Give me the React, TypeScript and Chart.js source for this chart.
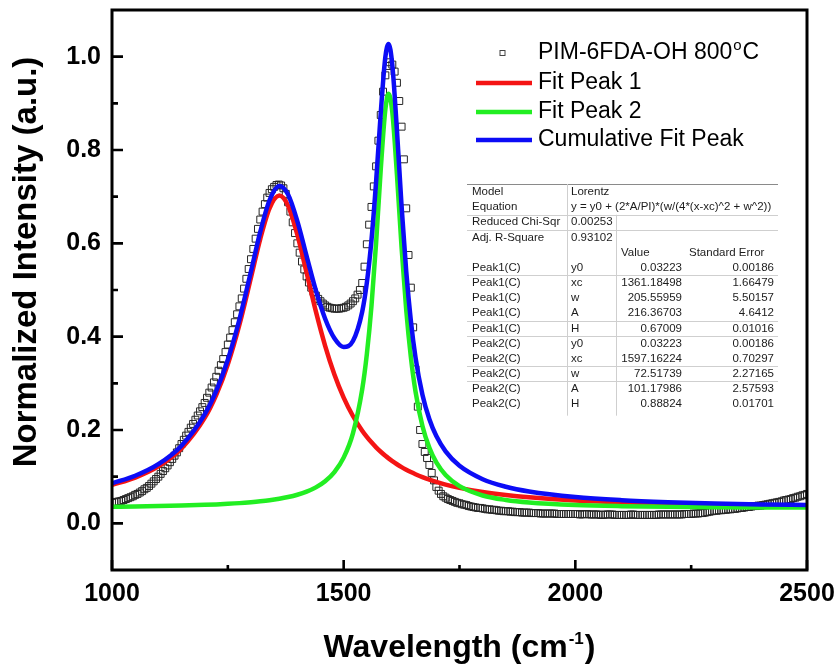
import React, { useEffect, useRef } from 'react';
import { Chart, registerables } from 'chart.js';

Chart.register(...registerables);

// Measured Raman spectrum (normalized), one row per 100 cm-1 span
const SPECTRUM_WAVENUMBER = [
  1000, 1005, 1010, 1015, 1020, 1025, 1030, 1035, 1040, 1045, 1050, 1055, 1060, 1065, 1070, 1075, 1080, 1085, 1090, 1095,
  1100, 1105, 1110, 1115, 1120, 1125, 1130, 1135, 1140, 1145, 1150, 1155, 1160, 1165, 1170, 1175, 1180, 1185, 1190, 1195,
  1200, 1205, 1210, 1215, 1220, 1225, 1230, 1235, 1240, 1245, 1250, 1255, 1260, 1265, 1270, 1275, 1280, 1285, 1290, 1295,
  1300, 1305, 1310, 1315, 1320, 1325, 1330, 1335, 1340, 1345, 1350, 1355, 1360, 1365, 1370, 1375, 1380, 1385, 1390, 1395,
  1400, 1405, 1410, 1415, 1420, 1425, 1430, 1435, 1440, 1445, 1450, 1455, 1460, 1465, 1470, 1475, 1480, 1485, 1490, 1495,
  1500, 1505, 1510, 1515, 1520, 1525, 1530, 1535, 1540, 1545, 1550, 1555, 1560, 1565, 1570, 1575, 1580, 1585, 1590, 1595,
  1600, 1605, 1610, 1615, 1620, 1625, 1630, 1635, 1640, 1645, 1650, 1655, 1660, 1665, 1670, 1675, 1680, 1685, 1690, 1695,
  1700, 1705, 1710, 1715, 1720, 1725, 1730, 1735, 1740, 1745, 1750, 1755, 1760, 1765, 1770, 1775, 1780, 1785, 1790, 1795,
  1800, 1805, 1810, 1815, 1820, 1825, 1830, 1835, 1840, 1845, 1850, 1855, 1860, 1865, 1870, 1875, 1880, 1885, 1890, 1895,
  1900, 1905, 1910, 1915, 1920, 1925, 1930, 1935, 1940, 1945, 1950, 1955, 1960, 1965, 1970, 1975, 1980, 1985, 1990, 1995,
  2000, 2005, 2010, 2015, 2020, 2025, 2030, 2035, 2040, 2045, 2050, 2055, 2060, 2065, 2070, 2075, 2080, 2085, 2090, 2095,
  2100, 2105, 2110, 2115, 2120, 2125, 2130, 2135, 2140, 2145, 2150, 2155, 2160, 2165, 2170, 2175, 2180, 2185, 2190, 2195,
  2200, 2205, 2210, 2215, 2220, 2225, 2230, 2235, 2240, 2245, 2250, 2255, 2260, 2265, 2270, 2275, 2280, 2285, 2290, 2295,
  2300, 2305, 2310, 2315, 2320, 2325, 2330, 2335, 2340, 2345, 2350, 2355, 2360, 2365, 2370, 2375, 2380, 2385, 2390, 2395,
  2400, 2405, 2410, 2415, 2420, 2425, 2430, 2435, 2440, 2445, 2450, 2455, 2460, 2465, 2470, 2475, 2480, 2485, 2490, 2495,
  2500,
];

const SPECTRUM_INTENSITY = [
  0.044, 0.045, 0.046, 0.047, 0.048, 0.050, 0.052, 0.054, 0.056, 0.058, 0.061, 0.063, 0.066, 0.069, 0.073, 0.076, 0.080, 0.085, 0.090, 0.095,
  0.100, 0.106, 0.112, 0.118, 0.124, 0.131, 0.138, 0.145, 0.152, 0.161, 0.170, 0.179, 0.188, 0.196, 0.205, 0.213, 0.222, 0.231, 0.240, 0.249,
  0.258, 0.269, 0.280, 0.291, 0.302, 0.314, 0.327, 0.339, 0.352, 0.367, 0.383, 0.398, 0.414, 0.431, 0.448, 0.465, 0.482, 0.503, 0.524, 0.545,
  0.566, 0.588, 0.610, 0.631, 0.651, 0.668, 0.684, 0.698, 0.708, 0.716, 0.721, 0.725, 0.726, 0.724, 0.718, 0.706, 0.688, 0.668, 0.645, 0.622,
  0.600, 0.580, 0.561, 0.544, 0.529, 0.516, 0.505, 0.496, 0.488, 0.481, 0.476, 0.471, 0.467, 0.464, 0.462, 0.461, 0.460, 0.460, 0.460, 0.461,
  0.462, 0.464, 0.467, 0.471, 0.476, 0.482, 0.490, 0.500, 0.515, 0.550, 0.598, 0.640, 0.678, 0.722, 0.765, 0.820, 0.875, 0.925, 0.960, 0.980,
  0.988, 0.983, 0.968, 0.944, 0.905, 0.850, 0.780, 0.675, 0.575, 0.505, 0.420, 0.330, 0.250, 0.200, 0.170, 0.153, 0.140, 0.125, 0.108, 0.092,
  0.078, 0.070, 0.063, 0.058, 0.055, 0.052, 0.050, 0.048, 0.046, 0.044, 0.043, 0.041, 0.040, 0.039, 0.037, 0.036, 0.035, 0.034, 0.033, 0.033,
  0.032, 0.031, 0.030, 0.030, 0.029, 0.029, 0.028, 0.027, 0.027, 0.026, 0.026, 0.026, 0.025, 0.025, 0.024, 0.024, 0.024, 0.023, 0.023, 0.023,
  0.023, 0.022, 0.022, 0.022, 0.022, 0.021, 0.021, 0.021, 0.021, 0.021, 0.021, 0.021, 0.020, 0.020, 0.020, 0.020, 0.020, 0.020, 0.020, 0.020,
  0.020, 0.020, 0.019, 0.019, 0.020, 0.020, 0.019, 0.019, 0.019, 0.019, 0.019, 0.018, 0.018, 0.019, 0.019, 0.019, 0.019, 0.018, 0.018, 0.018,
  0.018, 0.018, 0.018, 0.018, 0.019, 0.019, 0.018, 0.018, 0.018, 0.018, 0.018, 0.018, 0.018, 0.018, 0.018, 0.018, 0.019, 0.019, 0.019, 0.019,
  0.019, 0.019, 0.019, 0.019, 0.019, 0.019, 0.019, 0.020, 0.020, 0.020, 0.020, 0.021, 0.021, 0.021, 0.022, 0.022, 0.023, 0.024, 0.025, 0.026,
  0.027, 0.027, 0.028, 0.028, 0.029, 0.029, 0.030, 0.030, 0.031, 0.031, 0.032, 0.033, 0.033, 0.034, 0.035, 0.035, 0.036, 0.037, 0.037, 0.038,
  0.038, 0.039, 0.040, 0.041, 0.042, 0.043, 0.044, 0.045, 0.046, 0.047, 0.049, 0.050, 0.051, 0.052, 0.054, 0.055, 0.057, 0.058, 0.060, 0.061,
  0.063,
];

// Lorentz fit curves, tabulated on a grid that is denser around the two bands
const FIT_WAVENUMBER = [
  1000, 1050, 1100, 1150, 1200, 1225, 1250, 1275, 1300, 1320,
  1340, 1361, 1380, 1400, 1420, 1440, 1460, 1480, 1500, 1520,
  1540, 1550, 1560, 1570, 1580, 1590, 1597, 1605, 1615, 1625,
  1635, 1645, 1655, 1670, 1685, 1700, 1720, 1750, 1800, 1850,
  1900, 2000, 2100, 2200, 2300, 2400, 2500,
];

const FIT_PEAK_1 = [
  0.0824, 0.0981, 0.1221, 0.1606, 0.2259, 0.2754, 0.3410, 0.4257, 0.5270, 0.6096,
  0.6750, 0.7023, 0.6806, 0.6187, 0.5370, 0.4542, 0.3805, 0.3191, 0.2695, 0.2300,
  0.1986, 0.1854, 0.1736, 0.1629, 0.1534, 0.1447, 0.1392, 0.1333, 0.1266, 0.1205,
  0.1150, 0.1099, 0.1053, 0.0991, 0.0936, 0.0887, 0.0830, 0.0760, 0.0671, 0.0606,
  0.0558, 0.0491, 0.0450, 0.0421, 0.0402, 0.0387, 0.0376,
];

const FIT_PEAK_2 = [
  0.0355, 0.0361, 0.0369, 0.0380, 0.0396, 0.0406, 0.0418, 0.0433, 0.0453, 0.0472,
  0.0495, 0.0527, 0.0563, 0.0613, 0.0679, 0.0771, 0.0902, 0.1099, 0.1408, 0.1929,
  0.2871, 0.3622, 0.4654, 0.6012, 0.7579, 0.8871, 0.9205, 0.8808, 0.7474, 0.5911,
  0.4574, 0.3563, 0.2828, 0.2086, 0.1616, 0.1304, 0.1034, 0.0796, 0.0597, 0.0501,
  0.0448, 0.0394, 0.0368, 0.0354, 0.0346, 0.0340, 0.0337,
];

const FIT_CUMULATIVE = [
  0.0857, 0.1020, 0.1268, 0.1664, 0.2333, 0.2837, 0.3506, 0.4368, 0.5400, 0.6246,
  0.6923, 0.7228, 0.7047, 0.6477, 0.5727, 0.4991, 0.4385, 0.3967, 0.3781, 0.3907,
  0.4535, 0.5154, 0.6067, 0.7319, 0.8790, 0.9996, 1.0274, 0.9819, 0.8418, 0.6794,
  0.5402, 0.4340, 0.3559, 0.2754, 0.2229, 0.1869, 0.1542, 0.1233, 0.0946, 0.0785,
  0.0683, 0.0563, 0.0496, 0.0454, 0.0425, 0.0405, 0.0391,
];

const X_MAJOR_TICKS = [1000, 1500, 2000, 2500];
const X_MINOR_TICKS = [1250, 1750, 2250];
const Y_MAJOR_TICKS = [0, 0.2, 0.4, 0.6, 0.8, 1.0];
const Y_MINOR_TICKS = [0.1, 0.3, 0.5, 0.7, 0.9];

const SERIES_NAMES = ['PIM-6FDA-OH 800', 'Fit Peak 1', 'Fit Peak 2', 'Cumulative Fit Peak'];

// Fit report: [label, parameter, value, standard error]
const FIT_TABLE = [
  ['Model', 'Lorentz', '', ''],
  ['Equation', 'y = y0 + (2*A/PI)*(w/(4*(x-xc)^2 + w^2))', '', ''],
  ['Reduced Chi-Sqr', '0.00253', '', ''],
  ['Adj. R-Square', '0.93102', '', ''],
  ['', '', 'Value', 'Standard Error'],
  ['Peak1(C)', 'y0', '0.03223', '0.00186'],
  ['Peak1(C)', 'xc', '1361.18498', '1.66479'],
  ['Peak1(C)', 'w', '205.55959', '5.50157'],
  ['Peak1(C)', 'A', '216.36703', '4.6412'],
  ['Peak1(C)', 'H', '0.67009', '0.01016'],
  ['Peak2(C)', 'y0', '0.03223', '0.00186'],
  ['Peak2(C)', 'xc', '1597.16224', '0.70297'],
  ['Peak2(C)', 'w', '72.51739', '2.27165'],
  ['Peak2(C)', 'A', '101.17986', '2.57593'],
  ['Peak2(C)', 'H', '0.88824', '0.01701'],
];
const TABLE_RULES_AFTER = [1, 2, 5, 8, 9, 11, 12];

const FONT = '"Liberation Sans", Arial, Helvetica, sans-serif';
const RED = '#f41414';
const GREEN = '#22ee22';
const BLUE = '#0c0cf6';

const toPoints = (xs: number[], ys: number[]) => xs.map((x, i) => ({ x, y: ys[i] }));

const frameAndTicks = {
  id: 'frameAndTicks',
  afterDatasetsDraw(chart: any) {
    const { ctx, chartArea: a, scales } = chart;
    const xs = scales.x;
    const ys = scales.y;
    ctx.save();
    ctx.strokeStyle = '#000';
    ctx.lineWidth = 2.6;
    ctx.beginPath();
    X_MAJOR_TICKS.forEach((v) => {
      const p = xs.getPixelForValue(v);
      ctx.moveTo(p, a.bottom);
      ctx.lineTo(p, a.bottom - 10);
    });
    X_MINOR_TICKS.forEach((v) => {
      const p = xs.getPixelForValue(v);
      ctx.moveTo(p, a.bottom);
      ctx.lineTo(p, a.bottom - 5);
    });
    Y_MAJOR_TICKS.forEach((v) => {
      const p = ys.getPixelForValue(v);
      ctx.moveTo(a.left, p);
      ctx.lineTo(a.left + 11, p);
    });
    Y_MINOR_TICKS.forEach((v) => {
      const p = ys.getPixelForValue(v);
      ctx.moveTo(a.left, p);
      ctx.lineTo(a.left + 6, p);
    });
    ctx.stroke();
    ctx.lineWidth = 3;
    ctx.strokeRect(a.left, a.top, a.right - a.left, a.bottom - a.top);
    ctx.restore();
  },
};

const annotations = {
  id: 'annotations',
  afterDraw(chart: any) {
    const { ctx, chartArea: a } = chart;
    ctx.save();
    ctx.fillStyle = '#000';

    // axis titles
    ctx.font = `bold 33px ${FONT}`;
    ctx.textAlign = 'center';
    ctx.textBaseline = 'alphabetic';
    ctx.save();
    ctx.translate(36, 262);
    ctx.rotate(-Math.PI / 2);
    ctx.fillText('Normalized Intensity (a.u.)', 0, 0);
    ctx.restore();

    const xMain = 'Wavelength (cm';
    const xSup = '-1';
    const xEnd = ')';
    ctx.font = `bold 32px ${FONT}`;
    const wMain = ctx.measureText(xMain).width;
    const wEnd = ctx.measureText(xEnd).width;
    ctx.font = `bold 17px ${FONT}`;
    const wSup = ctx.measureText(xSup).width;
    const cx = (a.left + a.right) / 2;
    let tx = cx - (wMain + wSup + wEnd + 2) / 2;
    const base = 657;
    ctx.textAlign = 'left';
    ctx.font = `bold 32px ${FONT}`;
    ctx.fillText(xMain, tx, base);
    tx += wMain + 1;
    ctx.font = `bold 17px ${FONT}`;
    ctx.fillText(xSup, tx, base - 13);
    tx += wSup + 1;
    ctx.font = `bold 32px ${FONT}`;
    ctx.fillText(xEnd, tx, base);

    // legend
    const lx0 = 476;
    const lx1 = 532;
    const tx0 = 538;
    const rows = [53, 83, 112, 140];
    ctx.textBaseline = 'middle';
    ctx.font = `23px ${FONT}`;
    ctx.strokeStyle = '#444';
    ctx.lineWidth = 1;
    ctx.strokeRect(500, rows[0] - 2.5, 5, 5);
    ctx.fillText(SERIES_NAMES[0], tx0, rows[0]);
    let sx = tx0 + ctx.measureText(SERIES_NAMES[0]).width + 1;
    ctx.font = `15px ${FONT}`;
    ctx.fillText('o', sx, rows[0] - 7);
    sx += ctx.measureText('o').width + 1;
    ctx.font = `23px ${FONT}`;
    ctx.fillText('C', sx, rows[0]);
    const colors = [RED, GREEN, BLUE];
    for (let i = 1; i < 4; i++) {
      ctx.strokeStyle = colors[i - 1];
      ctx.lineWidth = 4.5;
      ctx.beginPath();
      ctx.moveTo(lx0, rows[i]);
      ctx.lineTo(lx1, rows[i]);
      ctx.stroke();
      ctx.fillText(SERIES_NAMES[i], tx0, rows[i]);
    }

    // fit report table
    const left = 467;
    const right = 778;
    const top = 184;
    const rowH = 15.15;
    const firstRow = 192;
    const bottom = firstRow + (FIT_TABLE.length - 0.5) * rowH + 4;
    ctx.lineWidth = 1;
    ctx.strokeStyle = '#8a8a8a';
    ctx.beginPath();
    ctx.moveTo(left, top + 0.5);
    ctx.lineTo(right, top + 0.5);
    ctx.stroke();
    ctx.strokeStyle = '#cfcfcf';
    ctx.beginPath();
    TABLE_RULES_AFTER.forEach((i) => {
      const y = Math.round(firstRow + (i + 0.5) * rowH) + 0.5;
      ctx.moveTo(left, y);
      ctx.lineTo(right, y);
    });
    ctx.moveTo(567.5, top);
    ctx.lineTo(567.5, bottom);
    ctx.moveTo(616.5, firstRow + 1.5 * rowH);
    ctx.lineTo(616.5, bottom);
    ctx.stroke();

    ctx.fillStyle = '#1c1c1c';
    ctx.font = `11.5px ${FONT}`;
    FIT_TABLE.forEach((row, i) => {
      const y = firstRow + i * rowH;
      ctx.textAlign = 'left';
      if (row[0]) ctx.fillText(row[0], 472, y);
      if (row[1]) ctx.fillText(row[1], 571, y);
      if (!row[0] && !row[1]) {
        ctx.fillText(row[2], 621, y);
        ctx.fillText(row[3], 689, y);
        return;
      }
      ctx.textAlign = 'right';
      if (row[2]) ctx.fillText(row[2], 682, y);
      if (row[3]) ctx.fillText(row[3], 774, y);
    });
    ctx.restore();
  },
};

export default function App() {
  const canvasRef = useRef<HTMLCanvasElement | null>(null);

  useEffect(() => {
    const canvas = canvasRef.current;
    if (!canvas) return;
    const tickFont = { family: FONT, size: 25, weight: 'bold' as const };
    const chart = new Chart(canvas, {
      type: 'scatter',
      data: {
        datasets: [
          {
            label: SERIES_NAMES[3],
            data: toPoints(FIT_WAVENUMBER, FIT_CUMULATIVE),
            showLine: true,
            borderColor: BLUE,
            borderWidth: 4.5,
            borderJoinStyle: 'round',
            pointRadius: 0,
            cubicInterpolationMode: 'monotone',
            order: 0,
          },
          {
            label: SERIES_NAMES[2],
            data: toPoints(FIT_WAVENUMBER, FIT_PEAK_2),
            showLine: true,
            borderColor: GREEN,
            borderWidth: 4.5,
            borderJoinStyle: 'round',
            pointRadius: 0,
            cubicInterpolationMode: 'monotone',
            order: 1,
          },
          {
            label: SERIES_NAMES[1],
            data: toPoints(FIT_WAVENUMBER, FIT_PEAK_1),
            showLine: true,
            borderColor: RED,
            borderWidth: 4.5,
            borderJoinStyle: 'round',
            pointRadius: 0,
            cubicInterpolationMode: 'monotone',
            order: 2,
          },
          {
            label: SERIES_NAMES[0] + '°C',
            data: toPoints(SPECTRUM_WAVENUMBER, SPECTRUM_INTENSITY),
            showLine: false,
            pointStyle: 'rect',
            pointRadius: 4.9,
            borderWidth: 1,
            borderColor: '#262626',
            backgroundColor: 'rgba(0,0,0,0)',
            order: 3,
          },
        ],
      },
      options: {
        responsive: false,
        devicePixelRatio: 1,
        animation: false,
        events: [],
        layout: { padding: { left: 0, top: 10, right: 31, bottom: 0 } },
        plugins: {
          legend: { display: false },
          tooltip: { enabled: false },
        },
        scales: {
          x: {
            type: 'linear',
            min: 1000,
            max: 2500,
            grid: { display: false, drawTicks: false },
            border: { display: false },
            afterBuildTicks: (s: any) => {
              s.ticks = X_MAJOR_TICKS.map((value) => ({ value }));
            },
            afterFit: (s: any) => {
              s.height = 94;
              s.paddingLeft = 0;
              s.paddingRight = 0;
            },
            ticks: {
              autoSkip: false,
              maxRotation: 0,
              padding: 9,
              color: '#000',
              font: tickFont,
              callback: (v: any) => String(v),
            },
          },
          y: {
            type: 'linear',
            min: -0.1,
            max: 1.1,
            grid: { display: false, drawTicks: false },
            border: { display: false },
            afterBuildTicks: (s: any) => {
              s.ticks = Y_MAJOR_TICKS.map((value) => ({ value }));
            },
            afterFit: (s: any) => {
              s.width = 112;
              s.paddingTop = 0;
              s.paddingBottom = 0;
            },
            ticks: {
              autoSkip: false,
              padding: 11,
              color: '#000',
              font: tickFont,
              callback: (v: any) => Number(v).toFixed(1),
            },
          },
        },
      },
      plugins: [frameAndTicks, annotations],
    } as any);
    return () => chart.destroy();
  }, []);

  return (
    <div style={{ position: 'absolute', left: 0, top: 0, width: 838, height: 664, background: '#fff' }}>
      <canvas ref={canvasRef} width={838} height={664} style={{ display: 'block', width: 838, height: 664 }} />
    </div>
  );
}
